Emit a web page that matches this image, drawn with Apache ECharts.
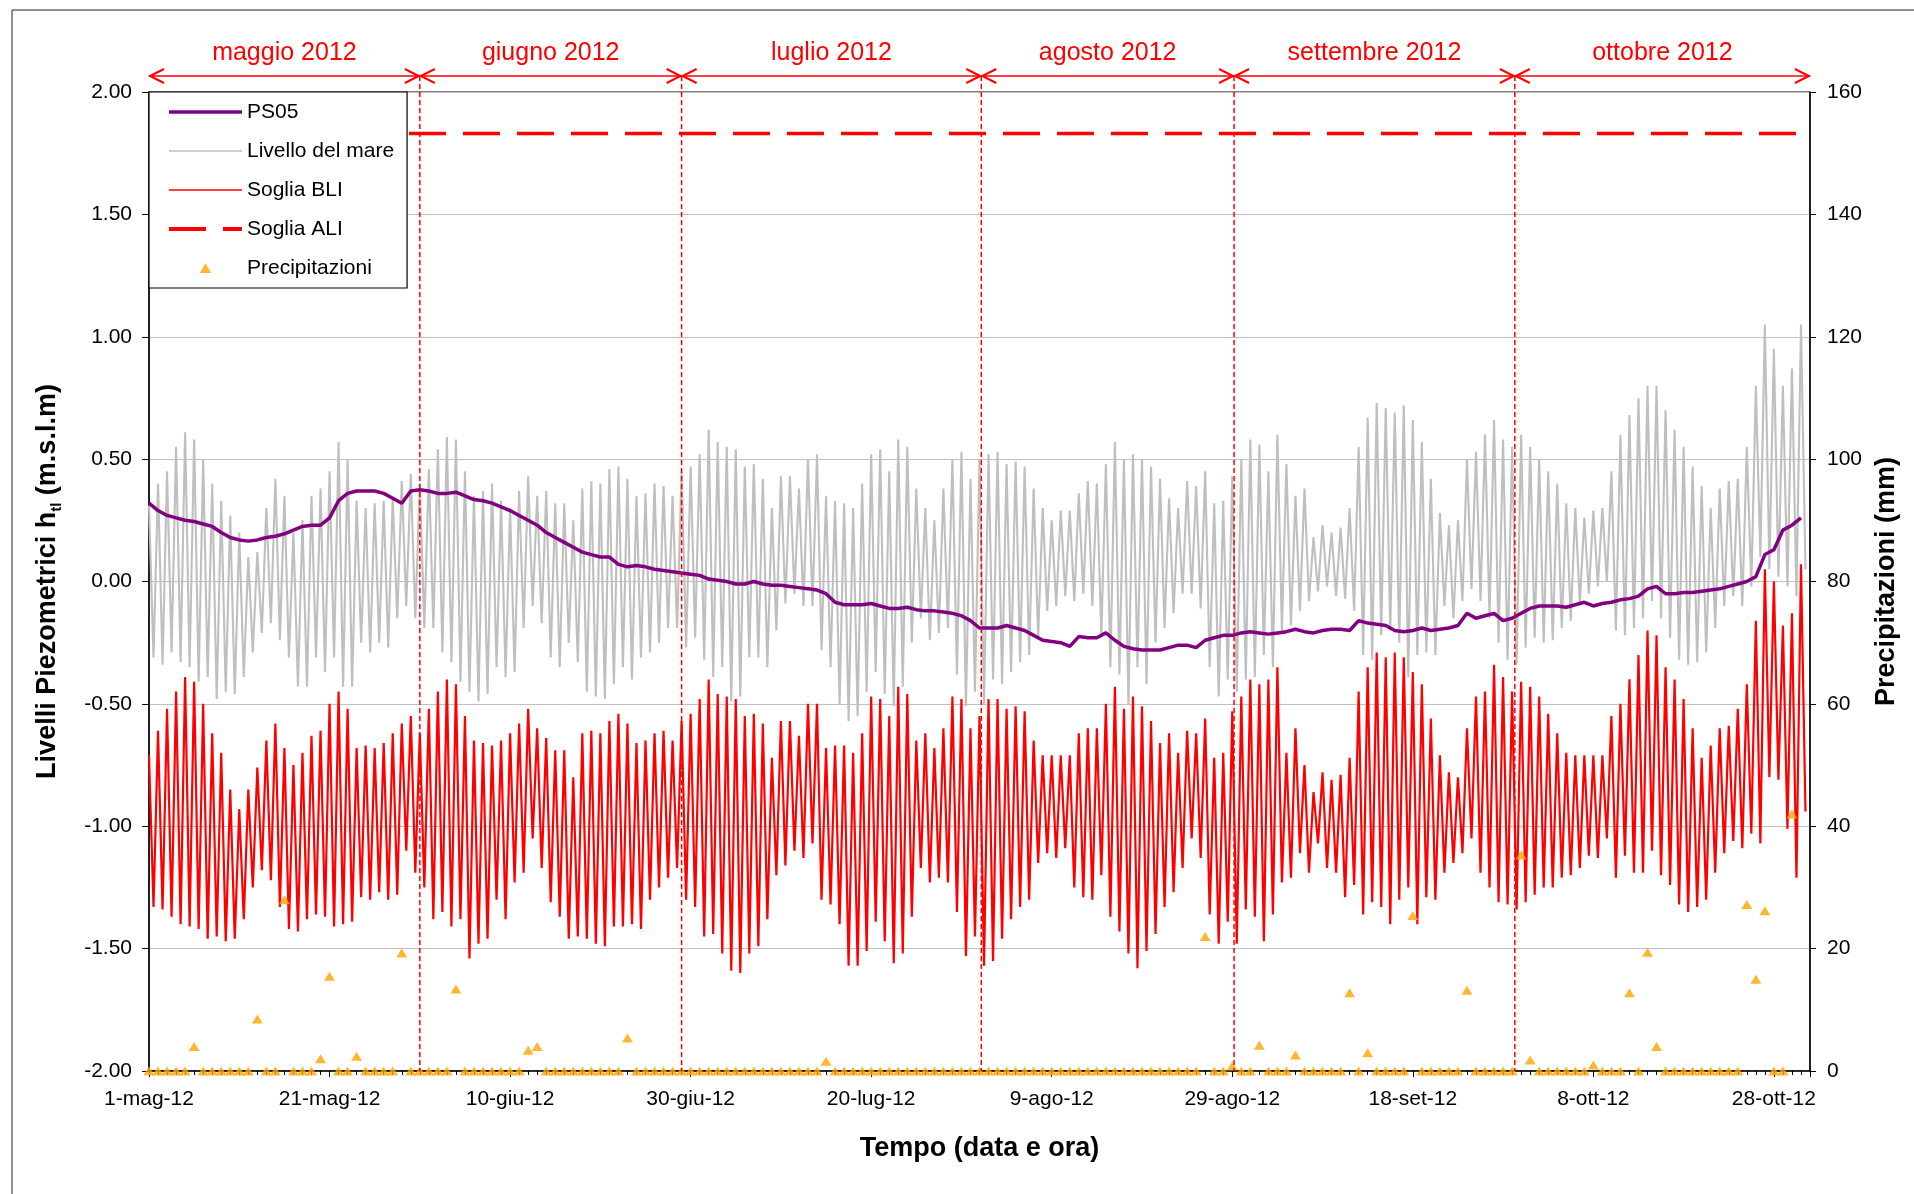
<!DOCTYPE html>
<html><head><meta charset="utf-8">
<script src="https://cdn.jsdelivr.net/npm/echarts@6/dist/echarts.min.js"></script>
<style>html,body{margin:0;padding:0;background:#fff}#c{width:1914px;height:1194px}</style>
</head><body><div id="c"></div>
<script>
// x values are days since 1 May 2012
const xTickLabels = ['1-mag-12','21-mag-12','10-giu-12','30-giu-12','20-lug-12','9-ago-12','29-ago-12','18-set-12','8-ott-12','28-ott-12'];
const monthNames = ['maggio 2012','giugno 2012','luglio 2012','agosto 2012','settembre 2012','ottobre 2012'];
const monthBounds = [0, 30.0, 59.0, 92.2, 120.2, 151.3, 184];

// Livello del mare: daily high / low
const seaHi = [
 0.31,0.40,0.45,0.55,0.61,0.58,0.50,0.40,0.33,0.27,0.20,0.10,0.12,0.30,0.42,0.35,0.20,0.25,0.35,0.38,0.45,0.57,0.50,
 0.33,0.30,0.32,0.33,0.34,0.41,0.44,0.40,0.46,0.54,0.59,0.58,0.45,0.35,0.37,0.40,0.33,0.30,0.37,0.43,0.35,0.37,0.32,
 0.32,0.25,0.38,0.41,0.40,0.46,0.47,0.42,0.35,0.36,0.40,0.39,0.35,0.45,0.47,0.52,0.62,0.57,0.55,0.54,0.47,0.48,0.42,
 0.30,0.43,0.43,0.38,0.50,0.52,0.35,0.33,0.32,0.30,0.40,0.52,0.54,0.45,0.58,0.55,0.38,0.30,0.25,0.38,0.50,0.53,0.42,
 0.50,0.52,0.53,0.48,0.49,0.47,0.38,0.30,0.25,0.29,0.29,0.36,0.41,0.40,0.48,0.57,0.50,0.52,0.50,0.47,0.42,0.34,0.30,
 0.41,0.39,0.45,0.32,0.33,0.43,0.50,0.58,0.56,0.45,0.60,0.48,0.35,0.38,0.18,0.23,0.20,0.22,0.30,0.55,0.67,0.73,0.71,0.69,
 0.72,0.66,0.57,0.42,0.28,0.23,0.25,0.50,0.53,0.60,0.66,0.58,0.55,0.60,0.55,0.50,0.45,0.40,0.32,0.30,0.26,0.29,0.30,
 0.45,0.60,0.68,0.75,0.80,0.80,0.70,0.62,0.55,0.47,0.39,0.30,0.38,0.41,0.42,0.55,0.80,1.05,0.95,0.80,0.87,1.05
];
const seaLo = [
 -0.31,-0.34,-0.29,-0.33,-0.35,-0.41,-0.39,-0.48,-0.45,-0.46,-0.39,-0.29,-0.21,-0.17,-0.24,-0.31,-0.43,-0.43,-0.31,-0.37,-0.31,-0.43,-0.43,
 -0.25,-0.29,-0.25,-0.27,-0.15,-0.10,-0.15,-0.19,-0.19,-0.29,-0.33,-0.41,-0.45,-0.49,-0.46,-0.35,-0.39,-0.37,-0.19,-0.10,-0.17,-0.31,-0.35,
 -0.25,-0.33,-0.45,-0.47,-0.48,-0.42,-0.35,-0.40,-0.31,-0.29,-0.25,-0.19,-0.19,-0.27,-0.23,-0.32,-0.39,-0.35,-0.49,-0.47,-0.31,-0.31,-0.35,
 -0.20,-0.09,-0.05,-0.10,-0.10,-0.28,-0.35,-0.50,-0.57,-0.55,-0.45,-0.37,-0.46,-0.51,-0.43,-0.25,-0.15,-0.24,-0.21,-0.19,-0.38,-0.51,-0.45,
 -0.50,-0.40,-0.42,-0.37,-0.33,-0.30,-0.23,-0.12,-0.10,-0.06,-0.08,-0.05,-0.10,-0.22,-0.35,-0.38,-0.50,-0.35,-0.42,-0.25,-0.19,-0.13,-0.05,
 -0.05,-0.11,-0.35,-0.47,-0.40,-0.45,-0.40,-0.39,-0.30,-0.35,-0.20,-0.18,-0.12,-0.08,-0.04,-0.02,-0.06,-0.07,-0.12,-0.30,-0.32,-0.22,-0.20,-0.25,
 -0.39,-0.30,-0.29,-0.30,-0.10,-0.15,-0.08,-0.03,-0.08,-0.15,-0.25,-0.32,-0.34,-0.27,-0.23,-0.25,-0.24,-0.19,-0.16,-0.09,-0.05,-0.02,0.00,
 -0.20,-0.22,-0.19,-0.15,-0.08,-0.15,-0.23,-0.32,-0.34,-0.33,-0.29,-0.19,-0.10,-0.06,-0.10,-0.02,0.10,0.05,0.02,-0.02,-0.06,0.05
];
// Soglia BLI: daily high / low
const bliHi = [
 -0.71,-0.61,-0.52,-0.45,-0.39,-0.41,-0.50,-0.62,-0.70,-0.85,-0.93,-0.85,-0.76,-0.65,-0.58,-0.68,-0.75,-0.70,-0.63,-0.61,-0.50,-0.45,-0.52,
 -0.68,-0.67,-0.68,-0.66,-0.62,-0.58,-0.55,-0.62,-0.52,-0.45,-0.40,-0.42,-0.55,-0.65,-0.66,-0.67,-0.65,-0.62,-0.58,-0.52,-0.60,-0.64,-0.69,
 -0.69,-0.80,-0.62,-0.61,-0.62,-0.57,-0.54,-0.58,-0.66,-0.65,-0.62,-0.61,-0.65,-0.57,-0.54,-0.48,-0.40,-0.46,-0.47,-0.48,-0.55,-0.54,-0.58,
 -0.72,-0.57,-0.57,-0.63,-0.50,-0.50,-0.68,-0.67,-0.67,-0.70,-0.62,-0.47,-0.48,-0.55,-0.43,-0.46,-0.65,-0.62,-0.68,-0.60,-0.47,-0.48,-0.60,
 -0.55,-0.48,-0.48,-0.52,-0.51,-0.53,-0.65,-0.71,-0.71,-0.71,-0.71,-0.62,-0.60,-0.60,-0.50,-0.43,-0.52,-0.47,-0.51,-0.57,-0.66,-0.62,-0.70,
 -0.61,-0.62,-0.56,-0.72,-0.70,-0.53,-0.47,-0.40,-0.42,-0.40,-0.35,-0.70,-0.60,-0.75,-0.86,-0.78,-0.81,-0.79,-0.72,-0.45,-0.35,-0.29,-0.31,-0.29,
 -0.31,-0.37,-0.42,-0.56,-0.71,-0.78,-0.80,-0.60,-0.47,-0.45,-0.34,-0.39,-0.45,-0.41,-0.43,-0.47,-0.54,-0.62,-0.70,-0.71,-0.71,-0.71,-0.71,
 -0.55,-0.50,-0.40,-0.30,-0.20,-0.22,-0.35,-0.40,-0.48,-0.60,-0.72,-0.67,-0.60,-0.59,-0.52,-0.42,-0.16,0.05,0.00,-0.18,-0.13,0.07
];
const bliLo = [
 -1.33,-1.34,-1.37,-1.40,-1.41,-1.42,-1.46,-1.45,-1.47,-1.46,-1.38,-1.25,-1.18,-1.22,-1.33,-1.42,-1.43,-1.38,-1.36,-1.37,-1.41,-1.40,-1.39,
 -1.29,-1.30,-1.27,-1.30,-1.28,-1.10,-1.19,-1.25,-1.38,-1.35,-1.41,-1.38,-1.54,-1.48,-1.46,-1.30,-1.38,-1.23,-1.19,-1.05,-1.17,-1.31,-1.37,
 -1.46,-1.45,-1.46,-1.48,-1.49,-1.41,-1.41,-1.40,-1.42,-1.30,-1.25,-1.21,-1.17,-1.30,-1.33,-1.45,-1.44,-1.52,-1.59,-1.60,-1.52,-1.49,-1.38,
 -1.20,-1.16,-1.10,-1.13,-1.07,-1.30,-1.32,-1.40,-1.57,-1.57,-1.51,-1.39,-1.47,-1.56,-1.52,-1.37,-1.17,-1.23,-1.21,-1.23,-1.35,-1.53,-1.45,
 -1.57,-1.55,-1.46,-1.38,-1.33,-1.30,-1.15,-1.11,-1.13,-1.09,-1.25,-1.29,-1.30,-1.20,-1.37,-1.43,-1.52,-1.58,-1.51,-1.44,-1.33,-1.27,-1.17,
 -1.05,-1.13,-1.36,-1.48,-1.39,-1.48,-1.34,-1.37,-1.47,-1.36,-1.23,-1.21,-1.11,-1.19,-1.07,-1.17,-1.19,-1.29,-1.24,-1.36,-1.31,-1.33,-1.40,-1.30,
 -1.25,-1.40,-1.29,-1.30,-1.19,-1.15,-1.11,-1.05,-1.19,-1.25,-1.31,-1.32,-1.34,-1.31,-1.28,-1.25,-1.25,-1.21,-1.20,-1.17,-1.12,-1.13,-1.05,
 -1.21,-1.12,-1.19,-1.19,-1.10,-1.20,-1.24,-1.32,-1.35,-1.33,-1.30,-1.19,-1.11,-1.06,-1.09,-1.03,-1.07,-0.80,-0.81,-1.01,-1.21,-0.94
];
// PS05 daily level
const ps05 = [
 0.32,0.29,0.27,0.26,0.25,0.245,0.235,0.225,0.20,0.18,0.17,0.165,0.17,0.18,0.185,0.195,0.21,0.225,0.23,0.23,0.26,0.33,0.36,
 0.37,0.37,0.37,0.36,0.34,0.32,0.37,0.375,0.37,0.36,0.36,0.365,0.35,0.335,0.33,0.32,0.305,0.29,0.27,0.25,0.23,0.20,0.18,
 0.16,0.14,0.12,0.11,0.10,0.10,0.07,0.06,0.065,0.06,0.05,0.045,0.04,0.035,0.03,0.025,0.01,0.005,0.0,-0.01,-0.01,0.0,-0.01,
 -0.015,-0.015,-0.02,-0.025,-0.03,-0.035,-0.05,-0.085,-0.095,-0.095,-0.095,-0.09,-0.10,-0.11,-0.11,-0.105,-0.115,-0.12,-0.12,-0.125,-0.13,-0.14,-0.16,
 -0.19,-0.19,-0.19,-0.18,-0.19,-0.20,-0.22,-0.24,-0.245,-0.25,-0.265,-0.225,-0.23,-0.23,-0.21,-0.24,-0.265,-0.275,-0.28,-0.28,-0.28,-0.27,-0.26,
 -0.26,-0.27,-0.24,-0.23,-0.22,-0.22,-0.21,-0.205,-0.21,-0.215,-0.21,-0.205,-0.195,-0.205,-0.21,-0.20,-0.195,-0.195,-0.20,-0.16,-0.17,-0.175,-0.18,-0.20,
 -0.205,-0.20,-0.19,-0.20,-0.195,-0.19,-0.18,-0.13,-0.15,-0.14,-0.13,-0.16,-0.15,-0.13,-0.11,-0.10,-0.10,-0.10,-0.105,-0.095,-0.085,-0.10,-0.09,
 -0.085,-0.075,-0.07,-0.06,-0.03,-0.02,-0.05,-0.05,-0.045,-0.045,-0.04,-0.035,-0.03,-0.02,-0.01,0.0,0.02,0.11,0.13,0.21,0.23,0.26
];
// Precipitazioni (mm), daily
const precip = [
 0,0,0,0,0,4,0,0,0,0,
 0,0,8.5,0,0,28,0,0,0,2,
 15.5,0,0,2.4,0,0,0,0,19.3,0,
 0,0,0,0,13.4,0,0,0,0,0,
 0,0,3.4,4,0,0,0,0,0,0,
 0,0,0,5.4,0,0,0,0,0,0,
 0,0,0,0,0,0,0,0,0,0,
 0,0,0,0,0,1.6,0,0,0,0,
 0,0,0,0,0,0,0,0,0,0,
 0,0,0,0,0,0,0,0,0,0,
 0,0,0,0,0,0,0,0,0,0,
 0,0,0,0,0,0,0,22,0,0,
 0.8,0,0,4.2,0,0,0,2.6,0,0,
 0,0,0,12.8,0,3,0,0,0,0,
 25.4,0,0,0,0,0,13.2,0,0,0,
 0,0,35.3,1.8,0,0,0,0,0,0,
 1,0,0,0,12.8,0,19.4,4,0,0,
 0,0,0,0,0,0,0,27.2,15,26.2,
 0,0,42
];
// Soglia ALI
const aliStart = 28.8, aliEnd = 184, aliLevel = 1.83;

const FONT = 'Liberation Sans, Arial, sans-serif';
function zigzag(hi, lo){ const out=[]; for(let i=0;i<hi.length;i++){ out.push([i, hi[i]]); out.push([i+0.5, lo[i]]);} return out; }

const chart = echarts.init(document.getElementById('c'), null, {renderer:'canvas'});
const hideSym = {opacity:0};
const option = {
  animation:false,
  backgroundColor:'#fff',
  grid:{left:149, right:104, top:92, bottom:123, show:true, borderColor:'#000', borderWidth:1, backgroundColor:'transparent'},
  legend:{
    orient:'vertical', left:149, top:92, itemWidth:73, itemHeight:10, itemGap:9, symbolKeepAspect:true,
    padding:[5,13,5,18], borderColor:'#000', borderWidth:1.2, backgroundColor:'#fff', z:10,
    textStyle:{fontFamily:FONT, fontSize:21, lineHeight:30, color:'#000'},
    data:[
      {name:'PS05', lineStyle:{width:3.5}, itemStyle:hideSym},
      {name:'Livello del mare', lineStyle:{width:1.5}, itemStyle:hideSym},
      {name:'Soglia BLI', lineStyle:{width:1.5}, itemStyle:hideSym},
      {name:'Soglia ALI', lineStyle:{width:4}, itemStyle:hideSym},
      {name:'Precipitazioni', icon:'path://M0,9L5,0L10,9Z'}
    ]
  },
  xAxis:{
    type:'value', min:0, max:184, interval:20,
    name:'Tempo (data e ora)', nameLocation:'middle', nameGap:64,
    nameTextStyle:{fontFamily:FONT, fontSize:27, fontWeight:'bold', color:'#000'},
    axisLine:{onZero:false, lineStyle:{color:'#000', width:1.5}},
    axisTick:{length:6, lineStyle:{color:'#000'}},
    minorTick:{show:true, splitNumber:20, length:4, lineStyle:{color:'#000'}},
    splitLine:{show:false},
    axisLabel:{fontFamily:FONT, fontSize:21, color:'#000', margin:18, showMaxLabel:false,
      formatter:function(v){ const i=Math.round(v/20); return (Math.abs(v-i*20)<1e-6 && xTickLabels[i]) ? xTickLabels[i] : ''; }}
  },
  yAxis:[{
    type:'value', min:-2, max:2, interval:0.5,
    name:'{a|Livelli Piezometrici h}{b|tl}{a| (m.s.l.m)}', nameLocation:'middle', nameGap:85, nameRotate:90,
    nameTextStyle:{rich:{
      a:{fontFamily:FONT, fontSize:27, fontWeight:'bold', color:'#000', lineHeight:32},
      b:{fontFamily:FONT, fontSize:15, fontWeight:'bold', color:'#000', lineHeight:32, verticalAlign:'bottom'}
    }},
    axisLine:{show:true, onZero:false, lineStyle:{color:'#000', width:1.5}},
    axisTick:{show:true, length:7, lineStyle:{color:'#000'}},
    splitLine:{show:true, lineStyle:{color:'#C0C0C0', width:1}},
    axisLabel:{fontFamily:FONT, fontSize:21, color:'#000', margin:17, formatter:v=>v.toFixed(2)}
  },{
    type:'value', min:0, max:160, interval:20, position:'right',
    name:'Precipitazioni (mm)', nameLocation:'middle', nameGap:60, nameRotate:90,
    nameTextStyle:{fontFamily:FONT, fontSize:27, fontWeight:'bold', color:'#000'},
    axisLine:{show:true, onZero:false, lineStyle:{color:'#000', width:1.5}},
    axisTick:{show:true, length:6, lineStyle:{color:'#000'}},
    splitLine:{show:false},
    axisLabel:{fontFamily:FONT, fontSize:21, color:'#000', margin:17}
  }],
  series:[
    {name:'Livello del mare', type:'line', data:zigzag(seaHi, seaLo), symbol:'none', z:2,
     lineStyle:{color:'#BFBFBF', width:2.1}, itemStyle:{color:'#BFBFBF'}},
    {name:'Soglia BLI', type:'line', data:zigzag(bliHi, bliLo), symbol:'none', z:3,
     lineStyle:{color:'#FF0000', width:2.2}, itemStyle:{color:'#FF0000'}},
    {name:'PS05', type:'line', data:ps05.map((v,i)=>[i,v]), symbol:'none', z:4,
     lineStyle:{color:'#800080', width:3.5}, itemStyle:{color:'#800080'}},
    {name:'Soglia ALI', type:'line', data:[[aliStart, aliLevel],[aliEnd, aliLevel]], symbol:'none', z:4,
     lineStyle:{color:'#FF0000', width:3.5, type:[37,17]}, itemStyle:{color:'#FF0000'}},
    {name:'Precipitazioni', type:'scatter', yAxisIndex:1, clip:false, z:5,
     data:precip.map((v,i)=>[i,v]), symbol:'triangle', symbolSize:[11,9], itemStyle:{color:'#FFA500'}}
  ]
};
chart.setOption(option);

// month annotations above the plot, placed through the x axis scale
const gTop = 92, gBottom = 1194 - 123;
const arrowY = gTop - 16, labelY = gTop - 39;
const px = v => chart.convertToPixel({xAxisIndex:0}, v);
const graphics = [{type:'rect', shape:{x:12, y:10, width:1960, height:1260}, style:{fill:'none', stroke:'#222', lineWidth:1}, z:0, silent:true}];
for (let i=0;i<monthNames.length;i++){
  const x1 = px(monthBounds[i]), x2 = px(monthBounds[i+1]);
  graphics.push({type:'line', shape:{x1:x1, y1:arrowY, x2:x2, y2:arrowY}, style:{stroke:'#FF0000', lineWidth:1.5}, z:20});
  graphics.push({type:'polyline', shape:{points:[[x1+15,arrowY-7],[x1+1,arrowY],[x1+15,arrowY+7]]}, style:{stroke:'#FF0000', lineWidth:2, fill:'none'}, z:20});
  graphics.push({type:'polyline', shape:{points:[[x2-15,arrowY-7],[x2-1,arrowY],[x2-15,arrowY+7]]}, style:{stroke:'#FF0000', lineWidth:2, fill:'none'}, z:20});
  graphics.push({type:'text', style:{x:(x1+x2)/2, y:labelY, text:monthNames[i], fill:'#FF0000', font:'25px '+FONT, textAlign:'center', textVerticalAlign:'middle'}, z:20});
  if (i>0){
    graphics.push({type:'line', shape:{x1:x1, y1:arrowY, x2:x1, y2:gBottom}, style:{stroke:'#FF0000', lineWidth:1.5, lineDash:[5,3]}, z:20});
  }
}
chart.setOption({graphic:graphics});
</script>
</body></html>
